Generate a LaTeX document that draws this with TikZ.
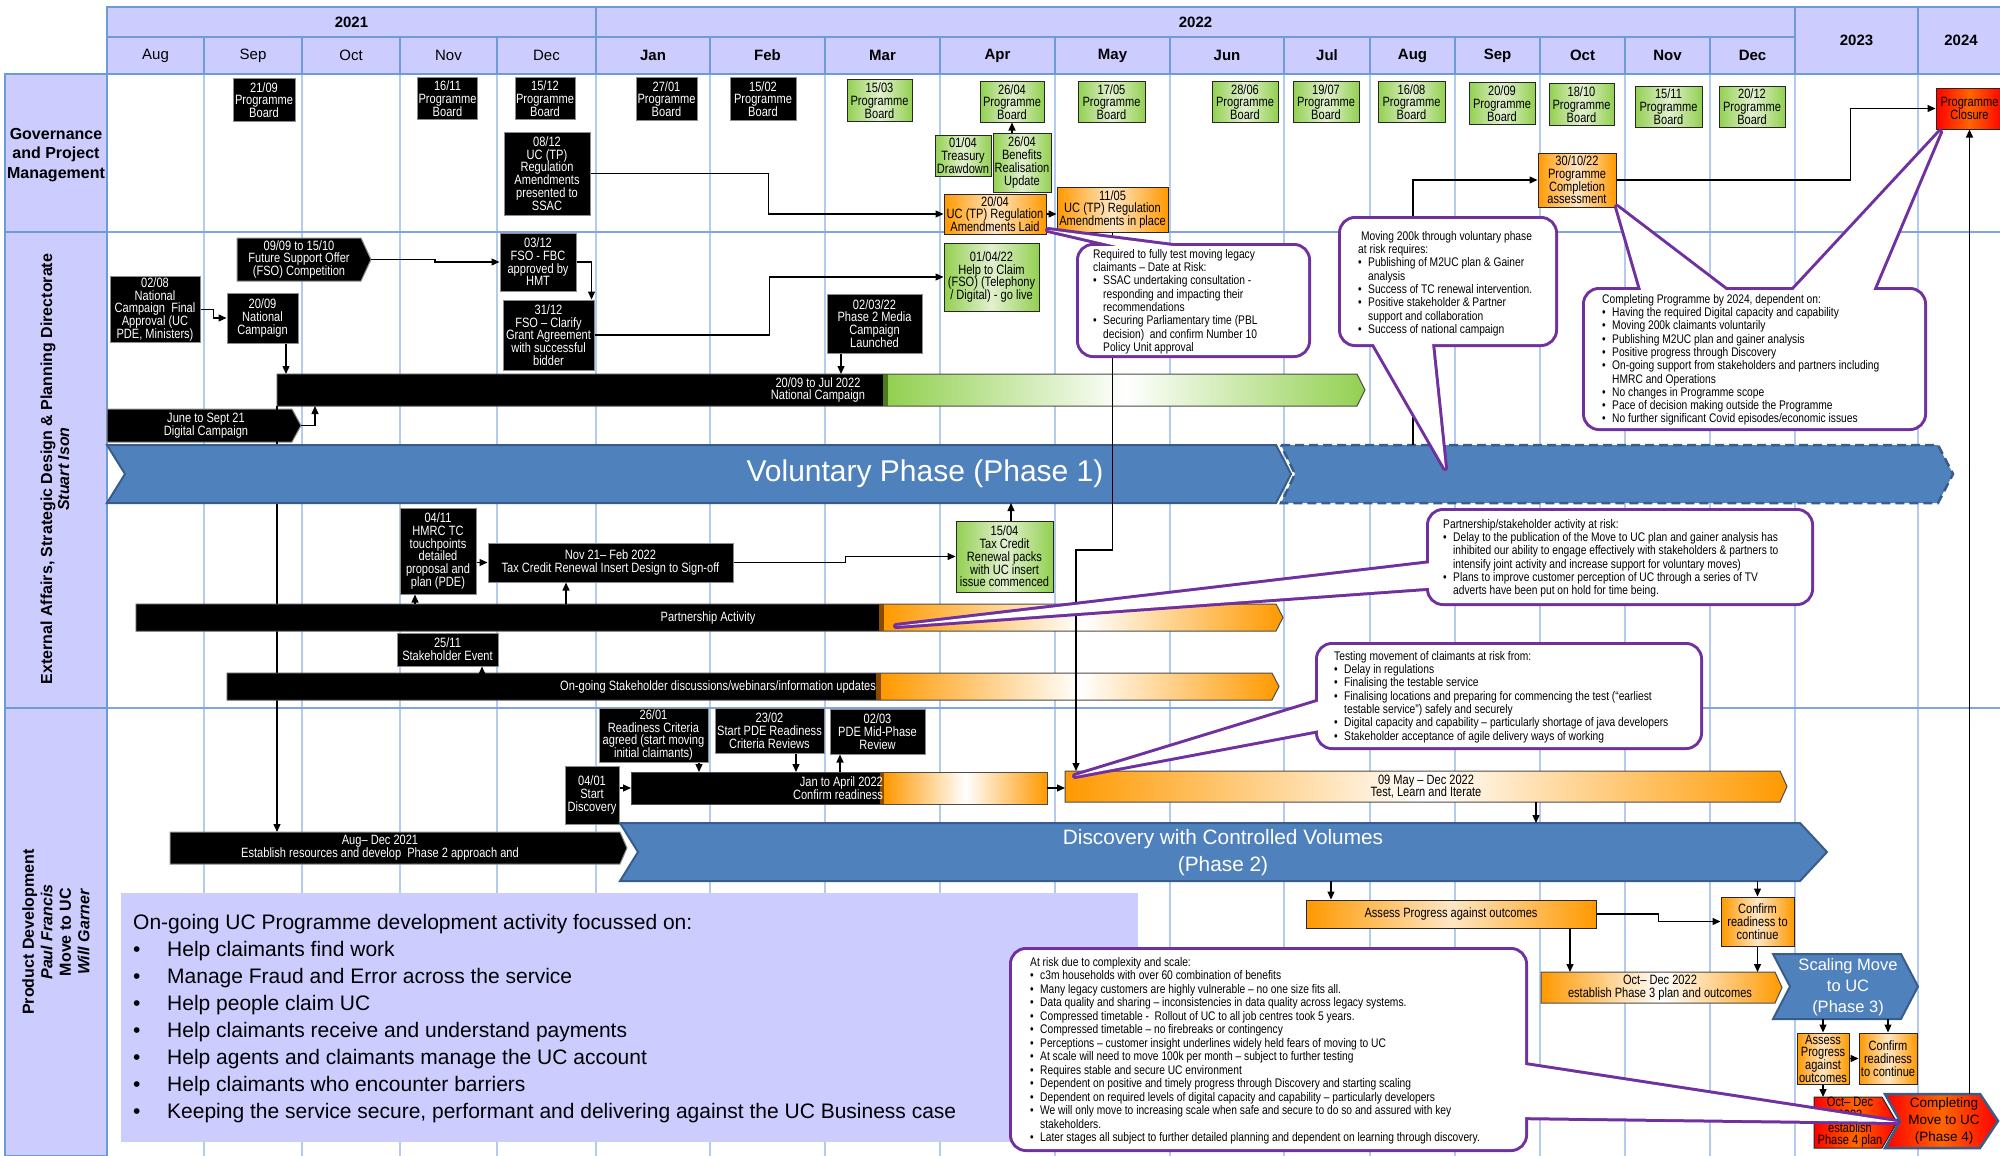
\documentclass[tikz,border=0pt]{standalone}
\usepackage{fontspec}
\setmainfont{Liberation Sans}
\newfontfamily\nar[FakeStretch=0.82]{Liberation Sans}
\usetikzlibrary{arrows.meta}

\definecolor{lav}{HTML}{CCCCFF}
\definecolor{hdrline}{HTML}{6C9BD8}
\definecolor{gridl}{HTML}{B3CBEE}
\definecolor{rowl}{HTML}{7FA6DF}
\definecolor{grn}{HTML}{92D050}
\definecolor{grnl}{HTML}{E2F0D0}
\definecolor{grnd}{HTML}{4E7A1E}
\definecolor{org}{HTML}{FF9900}
\definecolor{orgl}{HTML}{FFE6C4}
\definecolor{orgd}{HTML}{8A4A00}
\definecolor{redb}{HTML}{FF0000}
\definecolor{redl}{HTML}{FF6600}
\definecolor{blu}{HTML}{4F81BD}
\definecolor{bluline}{HTML}{385D8A}
\definecolor{purp}{HTML}{7030A0}

\newcommand\fsz[2]{\fontsize{#1}{#2}\selectfont}
\newcommand\bul{\makebox[10pt][l]{\textbullet}}
\newcommand\bcont{\hspace*{10pt}}
% arrow shaped bar: x1, y1, x2, y2, tip
\newcommand\arrowpath[5]{(#1,#2) -- ({#3-#5},#2) -- (#3,{(#2+#4)/2}) -- ({#3-#5},#4) -- (#1,#4) -- cycle}
% chevron: x1, y1, x2, y2, notch, tip
\newcommand\chevpath[6]{(#1,#2) -- ({#3-#6},#2) -- (#3,{(#2+#4)/2}) -- ({#3-#6},#4) -- (#1,#4) -- ({#1+#5},{(#2+#4)/2}) -- cycle}
% callout: box path, tail path
\newcommand\callout[2]{%
  \draw[purp, line width=6pt, rounded corners=14pt] #1;
  \draw[purp, line width=6pt, line join=round] #2;
  \fill[white, rounded corners=14pt] #1;
  \fill[white] #2;}

\tikzset{
  hdr/.style={fill=lav, draw=hdrline, line width=1.5pt, inner sep=0},
  hold/.style={inner sep=0, outer sep=0},
  lane/.style={align=center, inner sep=0, font=\bfseries\fsz{16}{19.5}},
  blk/.style={fill=black, draw=black!45, line width=1pt, text=white, align=center, inner sep=1pt, font=\nar\fsz{13.5}{12.7}},
  grnbox/.style={left color=grn, right color=grn, middle color=grnl, draw=black!85, line width=1pt, align=center, inner sep=1pt, font=\nar\fsz{13.5}{12.7}},
  orgbox/.style={left color=org, right color=org, middle color=orgl, draw=black!85, line width=1pt, align=center, inner sep=1pt, font=\nar\fsz{13.5}{12.7}},
  redbox/.style={left color=redb, right color=redb, middle color=redl, draw=black!85, line width=1pt, align=center, inner sep=1pt, font=\nar\fsz{13.5}{12.7}},
  blkbar/.style={fill=black, draw=black!45, line width=1pt},
  bardraw/.style={draw=black!70, line width=1pt},
  phase/.style={fill=blu, draw=bluline, line width=2pt},
  bartxt/.style={text=white, align=center, inner sep=0, font=\nar\fsz{13.5}{12.7}},
  phtxt/.style={text=white, align=center, inner sep=0},
  note/.style={anchor=north west, align=left, inner sep=0, font=\nar\fsz{12.5}{13.3}},
  conn/.style={-{Triangle[length=8pt,width=7pt]}, line width=1.3pt},
}

\begin{document}
\begin{tikzpicture}[x=1pt, y=-1pt]
\useasboundingbox (0,0) rectangle (2000,1156);

% grid
\foreach \x in {204,302,400,497,596,710,825,940,1055,1170,1284,1370,1455,1540,1625,1710,1795,1918}
  \draw[gridl, line width=1.2pt] (\x,74) -- (\x,1156);
\draw[rowl, line width=2pt] (5,232) -- (2000,232);
\draw[rowl, line width=2pt] (5,708) -- (2000,708);

% header
\node[hdr, minimum width=489, minimum height=30, font=\bfseries\fsz{15}{18}] (y2021) at (351.5,22) {2021};
\node[hdr, minimum width=1199, minimum height=30, font=\bfseries\fsz{15}{18}] (y2022) at (1195.5,22) {2022};
\node[hdr, minimum width=123, minimum height=67, font=\bfseries\fsz{15}{18}] (y2023) at (1856.5,40.5) {2023};
\node[hdr, minimum width=86, minimum height=67, font=\bfseries\fsz{15}{18}] (y2024) at (1961,40.5) {2024};
\foreach \a/\b/\m in {107/204/Aug,204/302/Sep,302/400/Oct,400/497/Nov,497/596/Dec}{
  \pgfmathsetmacro\mw{\b-\a}\pgfmathsetmacro\mc{(\a+\b)/2}
  \node[hdr, minimum width=\mw, minimum height=37, font=\fsz{15}{18}] (a\m) at (\mc,55.5) {\m};}
\foreach \a/\b/\m in {596/710/Jan,710/825/Feb,825/940/Mar,940/1055/Apr,1055/1170/May,1170/1284/Jun,1284/1370/Jul,1370/1455/Aug,1455/1540/Sep,1540/1625/Oct,1625/1710/Nov,1710/1795/Dec}{
  \pgfmathsetmacro\mw{\b-\a}\pgfmathsetmacro\mc{(\a+\b)/2}
  \node[hdr, minimum width=\mw, minimum height=37, font=\bfseries\fsz{15}{18}] (b\m) at (\mc,55.5) {\m};}

% lanes
\node[hdr, minimum width=102, minimum height=158] (lgov) at (56,153) {};
\node[hdr, minimum width=102, minimum height=476] (lext) at (56,470) {};
\node[hdr, minimum width=102, minimum height=448] (lprd) at (56,932) {};
\node[lane] (tgov) at (56,155) {Governance\\and Project\\Management};
\node[lane, rotate=90, font=\bfseries\fsz{16}{17}] (text) at (55,469) {External Affairs, Strategic Design \& Planning Directorate\\\textit{Stuart Ison}};
\node[lane, rotate=90, font=\bfseries\fsz{16}{18.5}] (tprd) at (56,932) {Product Development\\\textit{Paul Francis}\\Move to UC\\\textit{Will Garner}};

% governance
\node[blk, minimum width=62, minimum height=42] (pb2109) at (264,100) {21/09\\Programme\\Board};
\node[blk, minimum width=59, minimum height=41] (pb1611) at (447.5,98.5) {16/11\\Programme\\Board};
\node[blk, minimum width=60, minimum height=41] (pb1512) at (545,98.5) {15/12\\Programme\\Board};
\node[blk, minimum width=61, minimum height=42] (pb2701) at (666.5,99) {27/01\\Programme\\Board};
\node[blk, minimum width=66, minimum height=42] (pb1502) at (763,99) {15/02\\Programme\\Board};
\node[grnbox, minimum width=65, minimum height=41] (pb1503) at (879.5,100.5) {15/03\\Programme\\Board};
\node[grnbox, minimum width=64, minimum height=40] (pb2604) at (1012,102) {26/04\\Programme\\Board};
\node[grnbox, minimum width=67, minimum height=40] (pb1705) at (1111.5,102) {17/05\\Programme\\Board};
\node[grnbox, minimum width=66, minimum height=40] (pb2806) at (1245,102) {28/06\\Programme\\Board};
\node[grnbox, minimum width=66, minimum height=40] (pb1907) at (1326,102) {19/07\\Programme\\Board};
\node[grnbox, minimum width=67, minimum height=40] (pb1608) at (1411.5,102) {16/08\\Programme\\Board};
\node[grnbox, minimum width=66, minimum height=41] (pb2009) at (1502,103.5) {20/09\\Programme\\Board};
\node[grnbox, minimum width=65, minimum height=41] (pb1810) at (1581.5,104.5) {18/10\\Programme\\Board};
\node[grnbox, minimum width=67, minimum height=41] (pb1511) at (1668.5,106.5) {15/11\\Programme\\Board};
\node[grnbox, minimum width=66, minimum height=41] (pb2012) at (1752,106.5) {20/12\\Programme\\Board};
\node[redbox, minimum width=67, minimum height=41] (closure) at (1969.5,108.5) {Programme\\Closure};
\node[blk, minimum width=86, minimum height=83] (reg0812) at (547,173.5) {08/12\\UC (TP)\\Regulation\\Amendments\\presented to\\SSAC};
\node[grnbox, minimum width=56, minimum height=41] (tre0104) at (963,155.5) {01/04\\Treasury\\Drawdown};
\node[grnbox, minimum width=58, minimum height=59] (ben2604) at (1022,162.5) {26/04\\Benefits\\Realisation\\Update};
\node[orgbox, minimum width=102, minimum height=40] (reg2004) at (995,214) {20/04\\UC (TP) Regulation\\Amendments Laid};
\node[orgbox, minimum width=111, minimum height=45] (reg1105) at (1112.5,209.5) {11/05\\UC (TP) Regulation\\Amendments in place};
\node[orgbox, minimum width=78, minimum height=54] (comp3010) at (1577,180) {30/10/22\\Programme\\Completion\\assessment};

% external affairs
\node[hold, minimum width=134, minimum height=43] (fso) at (304,259.5) {};
\filldraw[blkbar] \arrowpath{237}{238}{371}{281}{10};
\node[bartxt] (fsotxt) at (299,259.5) {09/09 to 15/10\\Future Support Offer\\(FSO) Competition};
\node[blk, minimum width=90, minimum height=65] (nca0208) at (155,309.5) {02/08\\National\\Campaign~ Final\\Approval (UC\\PDE, Ministers)};
\node[blk, minimum width=71, minimum height=50] (nc2009) at (262.5,318) {20/09\\National\\Campaign};
\node[blk, minimum width=76, minimum height=58] (fbc0312) at (538,262) {03/12\\FSO - FBC\\approved by\\HMT};
\node[blk, minimum width=91, minimum height=70] (fso3112) at (548.5,335) {31/12\\FSO – Clarify\\Grant Agreement\\with successful\\bidder};
\node[grnbox, minimum width=95, minimum height=68] (htc0104) at (991.5,277) {01/04/22\\Help to Claim\\(FSO) (Telephony\\/ Digital) - go live};
\node[blk, minimum width=95, minimum height=59] (med0203) at (874.5,323.5) {02/03/22\\Phase 2 Media\\Campaign\\Launched};

\node[hold, minimum width=1088, minimum height=32] (ncbar) at (821,390) {};
\shade[left color=grn, right color=grn, middle color=white] \arrowpath{888}{374}{1365}{406}{8};
\fill[black] (277,374) rectangle (883,406);
\fill[grnd] (883,374) rectangle (888,406);
\draw[bardraw] \arrowpath{277}{374}{1365}{406}{8};
\node[bartxt] (nctxt) at (818,390) {20/09 to Jul 2022\\National Campaign};

\node[hold, minimum width=194, minimum height=33] (dig) at (204,425.5) {};
\filldraw[blkbar] \arrowpath{107}{409}{301}{442}{9};
\node[bartxt] (digtxt) at (206,426) {June to Sept 21\\Digital Campaign};

\node[hold, minimum width=457, minimum height=32] (augdec) at (398.5,848) {};
\draw[conn] (ncbar.south west) -- (ncbar.south west |- augdec.north);

% voluntary phase
\node[hold, minimum width=672, minimum height=58] (vol2) at (1617,474) {};
\filldraw[fill=blu, draw=bluline, line width=2.5pt, dash pattern=on 9pt off 5pt] \chevpath{1281}{445}{1953}{503}{14}{15};
\node[hold, minimum width=1184, minimum height=58] (vol) at (699,474) {};
\filldraw[phase] \chevpath{107}{445}{1291}{503}{18}{15};
\node[phtxt, font=\fsz{30}{36}] (voltxt) at (925,474) {Voluntary Phase (Phase 1)};

\node[blk, minimum width=76, minimum height=86] (hmrc0411) at (438,551) {04/11\\HMRC TC\\touchpoints\\detailed\\proposal and\\plan (PDE)};
\node[blk, minimum width=245, minimum height=39] (tcr) at (610.5,562.5) {Nov 21– Feb 2022\\Tax Credit Renewal Insert Design to Sign-off};
\node[grnbox, minimum width=97, minimum height=71] (tcp1504) at (1004.5,556.5) {15/04\\Tax Credit\\Renewal packs\\with UC insert\\issue commenced};

\node[hold, minimum width=1147, minimum height=27] (pbar) at (709.5,617.5) {};
\shade[left color=org, right color=org, middle color=white] \arrowpath{884}{604}{1283}{631}{7};
\fill[black] (136,604) rectangle (879,631);
\fill[orgd] (879,604) rectangle (884,631);
\draw[bardraw] \arrowpath{136}{604}{1283}{631}{7};
\node[bartxt] (ptxt) at (708,618) {Partnership Activity};

\node[blk, minimum width=101, minimum height=33] (se2511) at (447.5,649.5) {25/11\\Stakeholder Event};

\node[hold, minimum width=1052, minimum height=27] (obar) at (753,686.5) {};
\shade[left color=org, right color=org, middle color=white] \arrowpath{881}{673}{1279}{700}{7};
\fill[black] (227,673) rectangle (876,700);
\fill[orgd] (876,673) rectangle (881,700);
\draw[bardraw] \arrowpath{227}{673}{1279}{700}{7};
\node[bartxt] (otxt) at (718,687) {On-going Stakeholder discussions/webinars/information updates};

% product development
\node[blk, minimum width=109, minimum height=54] (rc2601) at (653.5,735) {26/01\\Readiness Criteria\\agreed (start moving\\initial claimants)};
\node[blk, minimum width=109, minimum height=45] (pde2302) at (769.5,730.5) {23/02\\Start PDE Readiness\\Criteria Reviews};
\node[blk, minimum width=95, minimum height=45] (pde0203) at (877.5,731.5) {02/03\\PDE Mid-Phase\\Review};
\node[blk, minimum width=54, minimum height=58] (sd0401) at (592,795) {04/01\\Start\\Discovery};

\node[hold, minimum width=416, minimum height=32] (crbar) at (839,788) {};
\shade[left color=org, right color=org, middle color=white] (884,772) rectangle (1047,804);
\fill[black] (631,772) rectangle (880,804);
\fill[orgd] (880,772) rectangle (884,804);
\draw[bardraw] (631,772) rectangle (1047,804);
\node[bartxt, align=right] (crtxt) at (838,788) {Jan to April 2022\\Confirm readiness};

\node[hold, minimum width=722, minimum height=31] (testbar) at (1426,786.5) {};
\shade[left color=org, right color=org, middle color=white] \arrowpath{1065}{771}{1787}{802}{7};
\draw[bardraw] \arrowpath{1065}{771}{1787}{802}{7};
\node[bartxt, text=black] (testtxt) at (1426,786.5) {09 May – Dec 2022\\Test, Learn and Iterate};

\filldraw[blkbar] \arrowpath{170}{832}{627}{864}{7};
\node[bartxt] (augtxt) at (380,848) {Aug– Dec 2021\\Establish resources and develop~ Phase 2 approach and};

\node[hold, minimum width=1207, minimum height=58] (disc) at (1223.5,852) {};
\filldraw[phase] \chevpath{620}{823}{1827}{881}{18}{27};
\node[phtxt, font=\fsz{20.8}{27}] (disctxt) at (1223,853) {Discovery with Controlled Volumes\\(Phase 2)};

\node[orgbox, minimum width=290, minimum height=28] (apo) at (1451,914) {Assess Progress against outcomes};
\node[orgbox, minimum width=73, minimum height=49] (crc) at (1757.5,921.5) {Confirm\\readiness to\\continue};

\node[hold, minimum width=241, minimum height=31] (od3) at (1661.5,987.5) {};
\shade[left color=org, right color=org, middle color=white] \arrowpath{1541}{972}{1782}{1003}{7};
\draw[bardraw] \arrowpath{1541}{972}{1782}{1003}{7};
\node[bartxt, text=black] (od3txt) at (1660,987.5) {Oct– Dec 2022\\establish Phase 3 plan and outcomes};

\node[hold, minimum width=145, minimum height=65] (scal) at (1845.5,986.5) {};
\filldraw[phase] \chevpath{1773}{954}{1918}{1019}{17}{17};
\node[phtxt, font=\fsz{16.5}{21}] (scaltxt) at (1848,987) {Scaling Move\\to UC\\(Phase 3)};

\node[orgbox, minimum width=52, minimum height=51] (apo2) at (1823,1058.5) {Assess\\Progress\\against\\outcomes};
\node[orgbox, minimum width=58, minimum height=51] (crc2) at (1888,1058.5) {Confirm\\readiness\\to continue};

\node[hold, minimum width=83, minimum height=51] (od4) at (1855.5,1122.5) {};
\shade[left color=redb, right color=redb, middle color=redl] \arrowpath{1814}{1097}{1897}{1148}{15};
\draw[draw=black!85, line width=1pt] \arrowpath{1814}{1097}{1897}{1148}{15};
\node[bartxt, text=black] (od4txt) at (1850,1122.5) {Oct– Dec\\2022\\establish\\Phase 4 plan};

\node[hold, minimum width=113, minimum height=54] (phase4) at (1941.5,1121) {};
\shade[left color=redb, right color=redb, middle color=redl] \chevpath{1885}{1094}{1998}{1148}{15}{18};
\draw[bluline, line width=2.5pt] \chevpath{1885}{1094}{1998}{1148}{15}{18};
\node[phtxt, text=black, font=\fsz{13.5}{17}] (ph4txt) at (1944,1121) {Completing\\Move to UC\\(Phase 4)};

% ongoing development
\node[fill=lav, minimum width=1017, minimum height=249, inner sep=0] (ongbox) at (629.5,1017.5) {};
\node[anchor=north west, align=left, inner sep=0, font=\fsz{21}{27}] (ongtxt) at (133,914) {On-going UC Programme development activity focussed on:\\
\makebox[34pt][l]{•}Help claimants find work\\
\makebox[34pt][l]{•}Manage Fraud and Error across the service\\
\makebox[34pt][l]{•}Help people claim UC\\
\makebox[34pt][l]{•}Help claimants receive and understand payments\\
\makebox[34pt][l]{•}Help agents and claimants manage the UC account\\
\makebox[34pt][l]{•}Help claimants who encounter barriers\\
\makebox[34pt][l]{•}Keeping the service secure, performant and delivering against the UC Business case};

% connectors
\draw[conn] (reg0812.east) -- ++(178,0) |- (reg2004.west);
\draw[conn] (pb2604.south |- ben2604.north) -- (pb2604.south);
\draw[conn] (reg2004.east) -- (reg2004.east -| reg1105.west);
\coordinate (vjog) at (1076,550);
\draw[conn] (reg1105.south) |- (vjog) -- (vjog |- testbar.north);
\coordinate (vcomp) at (1413,445);
\draw[conn] (vcomp) |- (comp3010.west);
\draw[conn] (comp3010.east) -- ++(234,0) |- (closure.west);
\draw[conn] (closure.south |- phase4.north) -- (closure.south);

\draw[conn] (nca0208.east) -- ++(13,0) |- (nc2009.west);
\draw[conn] ([xshift=23.5pt]nc2009.south) -- ([xshift=23.5pt]nc2009.south |- ncbar.north);
\draw[conn] (fso.east) -- ++(64,0) |- (fbc0312.west);
\draw[conn] (fbc0312.east) -| ([xshift=-3pt]fso3112.north east);
\draw[conn] (fso3112.east) -- ++(175,0) |- (htc0104.west);
\draw[conn] ([xshift=-33.5pt]med0203.south) -- ([xshift=-33.5pt]med0203.south |- ncbar.north);
\draw[conn] (dig.east) -| ([xshift=38pt]ncbar.south west);

\draw[conn] (hmrc0411.east |- tcr.west) -- (tcr.west);
\draw[conn] (tcr.east) -- ++(112,0) |- (tcp1504.west);
\draw[conn] ([xshift=6.5pt]tcp1504.north) -- ([xshift=6.5pt]tcp1504.north |- vol.south);
\draw[conn] ([xshift=-23pt]hmrc0411.south |- pbar.north) -- ([xshift=-23pt]hmrc0411.south);
\draw[conn] ([xshift=-44.5pt]tcr.south |- pbar.north) -- ([xshift=-44.5pt]tcr.south);
\draw[conn] ([xshift=34.5pt]se2511.south |- obar.north) -- ([xshift=34.5pt]se2511.south);

\draw[conn] ([xshift=45.5pt]rc2601.south) -- ([xshift=45.5pt]rc2601.south |- crbar.north);
\draw[conn] ([xshift=26.5pt]pde2302.south) -- ([xshift=26.5pt]pde2302.south |- crbar.north);
\draw[conn] ([xshift=-37.5pt]pde0203.south |- crbar.north) -- ([xshift=-37.5pt]pde0203.south);
\draw[conn] (sd0401.east |- crbar.west) -- (crbar.west);
\draw[conn] (crbar.east) -- (crbar.east -| testbar.west);
\draw[conn] ([xshift=110pt]testbar.south) -- ([xshift=110pt]testbar.south |- disc.north);
\draw[conn] ([xshift=-120pt]apo.north |- disc.south) -- ([xshift=-120pt]apo.north);
\draw[conn] (crc.north |- disc.south) -- (crc.north);
\draw[conn] (apo.east) -- ++(62,0) |- (crc.west);
\draw[conn] ([xshift=119pt]apo.south) -- ([xshift=119pt]apo.south |- od3.north);
\draw[conn] (crc.south) -- (crc.south |- od3.north);
\draw[conn] (apo2.north |- scal.south) -- (apo2.north);
\draw[conn] (crc2.north |- scal.south) -- (crc2.north);
\draw[conn] (apo2.east) -- (crc2.west);
\draw[conn] (apo2.south) -- (apo2.south |- od4.north);

% risk callouts
\callout{(1079,246) rectangle (1308,355)}{(1048,230) -- (1134,250) -- (1204,250) -- cycle}
\node[note] (reqtxt) at (1093,249) {Required to fully test moving legacy\\claimants – Date at Risk:\\\bul SSAC undertaking consultation -\\\bcont responding and impacting their\\\bcont recommendations\\\bul Securing Parliamentary time (PBL\\\bcont decision)~ and confirm Number 10\\\bcont Policy Unit approval};

\callout{(1341,219) rectangle (1555,344)}{(1368,334) -- (1445,468) -- (1431,334) -- cycle}
\node[note] (movtxt) at (1358,231) {~Moving 200k through voluntary phase\\at risk requires:\\\bul Publishing of M2UC plan \& Gainer\\\bcont analysis\\\bul Success of TC renewal intervention.\\\bul Positive stakeholder \& Partner\\\bcont support and collaboration\\\bul Success of national campaign};

\callout{(1585,290) rectangle (1924,428)}{(1644,300) -- (1617,207) -- (1739,300) -- cycle (1784,300) -- (1940,132) -- (1869,300) -- cycle}
\node[note] (cpltxt) at (1602,294) {Completing Programme by 2024, dependent on:\\\bul Having the required Digital capacity and capability\\\bul Moving 200k claimants voluntarily\\\bul Publishing M2UC plan and gainer analysis\\\bul Positive progress through Discovery\\\bul On-going support from stakeholders and partners including\\\bcont HMRC and Operations\\\bul No changes in Programme scope\\\bul Pace of decision making outside the Programme\\\bul No further significant Covid episodes/economic issues};

\callout{(1429,511) rectangle (1811,603)}{(1440,562) -- (896,626) -- (1440,587) -- cycle}
\node[note] (partxt) at (1443,519) {Partnership/stakeholder activity at risk:\\\bul Delay to the publication of the Move to UC plan and gainer analysis has\\\bcont inhibited our ability to engage effectively with stakeholders \& partners to\\\bcont intensify joint activity and increase support for voluntary moves)\\\bul Plans to improve customer perception of UC through a series of TV\\\bcont adverts have been put on hold for time being.};

\callout{(1318,645) rectangle (1700,747)}{(1330,698) -- (1075,776) -- (1330,728) -- cycle}
\node[note] (tsttxt) at (1334,651) {Testing movement of claimants at risk from:\\\bul Delay in regulations\\\bul Finalising the testable service\\\bul Finalising locations and preparing for commencing the test (“earliest\\\bcont testable service”) safely and securely\\\bul Digital capacity and capability – particularly shortage of java developers\\\bul Stakeholder acceptance of agile delivery ways of working};

\callout{(1012,950) rectangle (1525,1149)}{(1512,1063) -- (1897,1122) -- (1512,1117) -- cycle}
\node[note, font=\nar\fsz{12.5}{13.5}] (arktxt) at (1030,957) {At risk due to complexity and scale:\\\bul c3m households with over 60 combination of benefits\\\bul Many legacy customers are highly vulnerable – no one size fits all.\\\bul Data quality and sharing – inconsistencies in data quality across legacy systems.\\\bul Compressed timetable -~ Rollout of UC to all job centres took 5 years.\\\bul Compressed timetable – no firebreaks or contingency\\\bul Perceptions – customer insight underlines widely held fears of moving to UC\\\bul At scale will need to move 100k per month – subject to further testing\\\bul Requires stable and secure UC environment\\\bul Dependent on positive and timely progress through Discovery and starting scaling\\\bul Dependent on required levels of digital capacity and capability – particularly developers\\\bul We will only move to increasing scale when safe and secure to do so and assured with key\\\bcont stakeholders.\\\bul Later stages all subject to further detailed planning and dependent on learning through discovery.};
\end{tikzpicture}
\end{document}
